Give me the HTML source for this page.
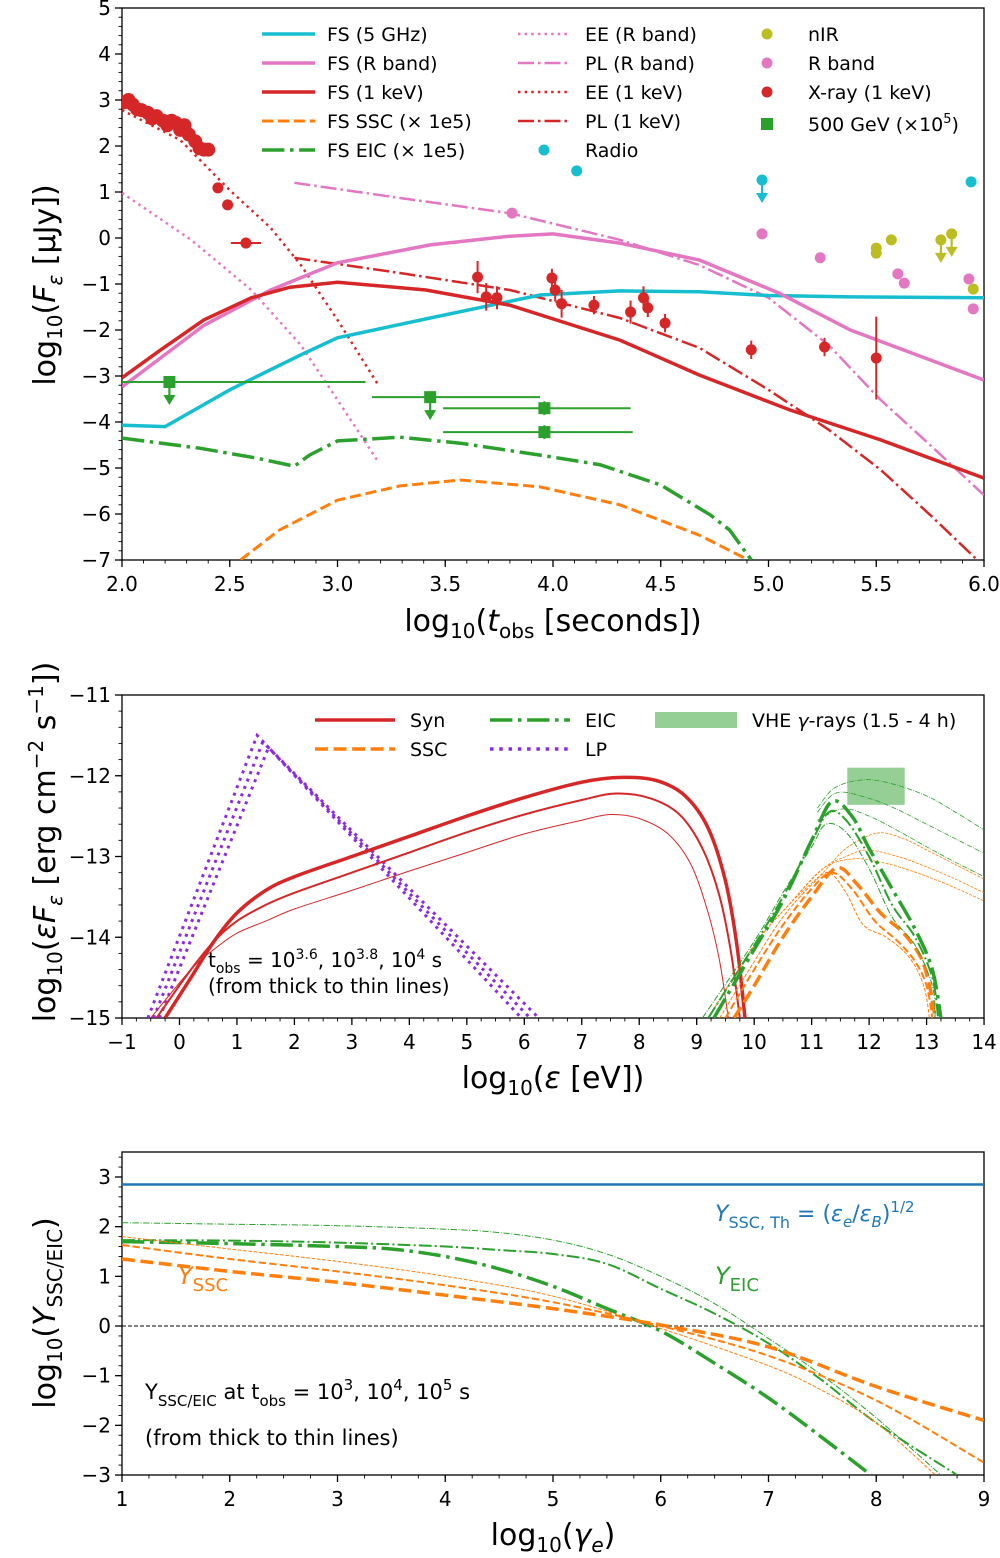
<!DOCTYPE html>
<html><head><meta charset="utf-8"><style>
html,body{margin:0;padding:0;background:#fff}
svg{display:block;font-family:"DejaVu Sans","Liberation Sans",sans-serif}
</style></head><body>
<svg id="fig" width="1000" height="1558" viewBox="0 0 1000 1558" xmlns="http://www.w3.org/2000/svg">
<defs>
<clipPath id="c1"><rect x="122" y="8" width="862" height="552"/></clipPath>
<clipPath id="c2"><rect x="122" y="695" width="862" height="323"/></clipPath>
<clipPath id="c3"><rect x="122" y="1152" width="862" height="323"/></clipPath>
</defs>
<g id="p1"></g>
<g id="p2"></g>
<g id="p3"></g>
</svg>
<script>
// ---------- Panel 1 data ----------
const fs5x=[2.0,2.2,2.5,2.83,3.0,3.43,3.94,4.31,4.68,5.0,5.38,6.0];
const fs5y=[-4.07,-4.1,-3.3,-2.54,-2.17,-1.74,-1.24,-1.15,-1.17,-1.25,-1.28,-1.3];
const fsRx=[2.0,2.38,2.69,3.0,3.43,3.8,4.0,4.31,4.68,5.05,5.38,6.0];
const fsRy=[-3.24,-1.9,-1.13,-0.54,-0.15,0.04,0.09,-0.11,-0.48,-1.2,-2.0,-3.09];
const fsXx=[2.0,2.18,2.38,2.6,2.78,3.0,3.41,3.8,4.31,4.68,5.1,5.52,6.0];
const fsXy=[-3.04,-2.43,-1.78,-1.3,-1.07,-0.96,-1.13,-1.46,-2.22,-2.98,-3.74,-4.39,-5.22];
const sscx=[2.55,2.73,3.0,3.29,3.57,3.94,4.31,4.68,4.89];
const sscy=[-7,-6.35,-5.7,-5.39,-5.26,-5.41,-5.8,-6.46,-6.96];
const eicx=[2.0,2.36,2.62,2.8,2.87,3.0,3.29,3.57,3.94,4.22,4.5,4.73,4.82,4.92];
const eicy=[-4.35,-4.57,-4.78,-4.96,-4.72,-4.41,-4.33,-4.46,-4.72,-4.93,-5.37,-6.02,-6.35,-7];
const eeRx=[2.0,2.32,2.6,2.83,3.0,3.19];
const eeRy=[0.98,-0.04,-1.13,-2.33,-3.52,-4.87];
const eeXx=[2.0,2.27,2.5,2.69,2.83,3.0,3.19];
const eeXy=[2.78,2.13,1.04,0.22,-0.59,-1.78,-3.2];
const plRx=[2.8,3.29,3.8,4.31,4.68,5.0,5.28,5.52,5.75,6.0];
const plRy=[1.2,0.87,0.54,-0.04,-0.59,-1.3,-2.33,-3.52,-4.5,-5.59];
const plXx=[2.8,3.29,3.8,4.31,4.68,5.0,5.28,5.52,5.75,5.96];
const plXy=[-0.43,-0.76,-1.13,-1.74,-2.39,-3.3,-4.17,-5.04,-6.02,-6.96];
const xrayT=[2.01,2.03,2.05,2.07,2.09,2.12,2.14,2.16,2.19,2.21,2.23,2.25,2.27,2.29,2.31,2.34,2.36,2.38,2.40,2.445,2.49,2.575,3.65,3.69,3.74,3.995,4.01,4.04,4.19,4.36,4.42,4.44,4.52,4.92,5.26,5.50];
const xrayF=[2.95,3.0,2.9,2.8,2.78,2.72,2.6,2.65,2.55,2.45,2.55,2.5,2.35,2.45,2.25,2.1,1.95,1.92,1.92,1.09,0.72,-0.11,-0.85,-1.28,-1.3,-0.87,-1.13,-1.43,-1.46,-1.61,-1.3,-1.52,-1.85,-2.43,-2.37,-2.61];
const xrayErr=[0,0,0,0,0,0,0,0,0,0,0,0,0,0,0,0,0,0,0,0,0,0,0.35,0.3,0.25,0.2,0.25,0.3,0.2,0.25,0.25,0.2,0.2,0.2,0.2,0.9];
const nirT=[5.5,5.5,5.57,5.8,5.85,5.95];
const nirF=[-0.22,-0.33,-0.04,-0.04,0.09,-1.11];
const nirUL=[0,0,0,1,1,0];
const rbT=[3.81,4.97,5.24,5.6,5.63,5.93,5.95];
const rbF=[0.54,0.09,-0.43,-0.78,-0.98,-0.89,-1.54];
const radT=[4.11,4.97,5.94];
const radF=[1.46,1.26,1.22];
const radUL=[0,1,0];
const gevT=[2.22,3.43,3.96,3.96];
const gevF=[-3.13,-3.46,-3.7,-4.22];
const gevLo=[2.0,3.16,3.49,3.49];
const gevHi=[3.13,3.94,4.36,4.37];
const gevUL=[1,1,0,0];
const p1xTicks=[2.0,2.5,3.0,3.5,4.0,4.5,5.0,5.5,6.0];
const p1yTicks=[-7,-6,-5,-4,-3,-2,-1,0,1,2,3,4,5];
// ---------- Panel 2 data ----------
const synX=[[-0.25,0.2,0.6,1.0,1.5,2.0,3,4,5,6,7,7.7,8.3,8.8,9.2,9.5,9.7,9.84],[-0.4,0.2,0.6,1.0,1.5,2,3,4,5,6,7,7.6,8.2,8.7,9.1,9.4,9.6,9.75],[-0.5,0.2,0.6,1.0,1.5,2,3,4,5,6,7,7.5,8.0,8.5,8.9,9.2,9.4,9.55]];
const synY=[[-15,-14.5,-14.05,-13.7,-13.42,-13.25,-13.0,-12.75,-12.5,-12.27,-12.08,-12.02,-12.06,-12.25,-12.65,-13.3,-14.1,-15],[-15,-14.4,-14.05,-13.8,-13.6,-13.45,-13.2,-12.95,-12.7,-12.48,-12.3,-12.22,-12.28,-12.48,-12.9,-13.5,-14.2,-15],[-15,-14.4,-14.15,-13.95,-13.8,-13.65,-13.42,-13.18,-12.95,-12.72,-12.55,-12.48,-12.53,-12.72,-13.1,-13.7,-14.3,-15]];
const lpX=[[-0.55,1.35,5.95],[-0.45,1.45,6.1],[-0.35,1.55,6.25]];
const lpY=[[-15,-11.5,-15],[-15,-11.58,-15],[-15,-11.65,-15]];
const eicSX=[[9.3,10,10.5,11,11.35,11.7,12.0,12.4,12.8,13.1,13.25],[9.2,10,10.5,11,11.3,11.6,12,12.4,12.8,13.1,13.2],[9.1,10,10.5,11,11.25,11.6,12,12.4,12.8,13.1,13.15],[11.1,11.4,11.9,12.4,13,13.5,14],[11.1,11.44,12,12.5,13,13.5,14],[11.1,11.55,12,12.5,13,13.5,14]];
const eicSY=[[-15,-14.15,-13.55,-12.8,-12.32,-12.5,-12.9,-13.4,-13.9,-14.4,-15],[-15,-14.1,-13.5,-12.82,-12.45,-12.55,-13.0,-13.6,-14.0,-14.5,-15],[-15,-14.05,-13.45,-12.88,-12.6,-12.7,-13.15,-13.75,-14.1,-14.6,-15],[-12.4,-12.15,-12.05,-12.1,-12.25,-12.45,-12.67],[-12.45,-12.21,-12.28,-12.42,-12.6,-12.78,-12.96],[-12.55,-12.41,-12.5,-12.68,-12.88,-13.07,-13.25]];
const sscSX=[[9.65,10,10.5,11,11.44,11.8,12.2,12.6,12.9,13.05,13.15],[9.5,10,10.5,11,11.35,11.7,12.1,12.5,12.8,13,13.1],[9.4,10,10.5,11,11.3,11.6,11.9,12.3,12.7,12.95,13.05],[9.2,10,10.6,11.2,11.6,12.14,12.6,13,13.5,14],[9.2,10,10.6,11.2,11.6,11.96,12.5,13,13.5,14],[9.2,10,10.6,11.2,11.72,12.2,12.7,13.2,13.6,14]];
const sscSY=[[-15,-14.6,-14.0,-13.5,-13.14,-13.35,-13.7,-13.95,-14.25,-14.6,-15],[-15,-14.4,-13.85,-13.4,-13.2,-13.4,-13.8,-14.05,-14.3,-14.6,-15],[-15,-14.3,-13.75,-13.35,-13.2,-13.45,-13.85,-14.0,-14.25,-14.6,-15],[-15,-14.1,-13.6,-13.2,-12.9,-12.71,-12.78,-12.92,-13.1,-13.28],[-15,-14.1,-13.6,-13.15,-13.0,-12.92,-13.0,-13.13,-13.28,-13.45],[-15,-14.1,-13.6,-13.15,-13.03,-13.07,-13.17,-13.3,-13.42,-13.55]];
const vheX=[11.62,12.62];
const vheY=[-11.9,-12.36];
const p2xTicks=[-1,0,1,2,3,4,5,6,7,8,9,10,11,12,13,14];
const p2yTicks=[-15,-14,-13,-12,-11];
// ---------- Panel 3 data ----------
const yTh=2.85;
const yEicX=[[1,2,3,3.5,4,4.5,5,5.5,6,6.5,7,7.5,7.95],[1,2,3,4,4.5,5,5.5,6,6.5,7,7.5,8,8.75],[1,2,3,4,4.5,5,5.5,6,6.5,7,7.5,8,8.6]];
const yEicY=[[1.7,1.66,1.6,1.55,1.4,1.15,0.8,0.35,-0.1,-0.75,-1.45,-2.25,-3.0],[1.73,1.72,1.68,1.6,1.53,1.45,1.25,0.75,0.25,-0.35,-1.1,-1.95,-3.0],[2.08,2.05,2.02,1.95,1.88,1.73,1.45,1.0,0.45,-0.25,-1.0,-1.85,-3.0]];
const ySscX=[[1,2,3,4,5,6,7,8,9],[1,2,3,4,5,6,7,8,9],[1,2,3,4,5,6,7,7.5,8,8.55]];
const ySscY=[[1.35,1.1,0.88,0.62,0.35,0.02,-0.42,-1.22,-1.9],[1.63,1.35,1.1,0.82,0.48,0.0,-0.6,-1.5,-2.75],[1.8,1.55,1.3,1.0,0.6,-0.05,-0.8,-1.3,-1.95,-3.0]];
const p3xTicks=[1,2,3,4,5,6,7,8,9];
const p3yTicks=[-3,-2,-1,0,1,2,3];

const NS="http://www.w3.org/2000/svg";
function mk(parent,tag,attrs){const e=document.createElementNS(NS,tag);for(const k in attrs)e.setAttribute(k,attrs[k]);parent.appendChild(e);return e;}
const C={cyan:"#17becf",pink:"#e377c2",red:"#d62728",orange:"#ff7f0e",green:"#2ca02c",purple:"#8a2be2",olive:"#bcbd22",blue:"#1f77b4"};
function dash(kind,lw){if(kind==="dashed")return[3.7*lw,1.6*lw].join(",");if(kind==="dotted")return[1*lw,1.65*lw].join(",");if(kind==="dashdot")return[6.4*lw,1.6*lw,1*lw,1.6*lw].join(",");return "none";}
function pathD(xs,ys,X,Y,smooth){
 const P=xs.map((x,i)=>[X(x),Y(ys[i])]);
 if(!smooth||P.length<3)return P.map((p,i)=>(i?"L":"M")+p[0].toFixed(1)+","+p[1].toFixed(1)).join("");
 let d="M"+P[0][0].toFixed(1)+","+P[0][1].toFixed(1);
 for(let i=0;i<P.length-1;i++){const p0=P[Math.max(0,i-1)],p1=P[i],p2=P[i+1],p3=P[Math.min(P.length-1,i+2)];
  const c1=[p1[0]+(p2[0]-p0[0])/6,p1[1]+(p2[1]-p0[1])/6],c2=[p2[0]-(p3[0]-p1[0])/6,p2[1]-(p3[1]-p1[1])/6];
  d+="C"+c1[0].toFixed(1)+","+c1[1].toFixed(1)+" "+c2[0].toFixed(1)+","+c2[1].toFixed(1)+" "+p2[0].toFixed(1)+","+p2[1].toFixed(1);}
 return d;}
function curve(g,xs,ys,X,Y,col,lw,kind,name,smooth){const p=mk(g,"path",{d:pathD(xs,ys,X,Y,smooth),fill:"none",stroke:col,"stroke-width":lw,"stroke-dasharray":dash(kind,lw)});


return p;}
function txt(g,x,y,s,size,anchor,col,name){const t=mk(g,"text",{x:x,y:y,"font-size":size,"text-anchor":anchor||"start",fill:col||"#000"});t.innerHTML=s;


return t;}
function axes(g,L,T,R,B,X,Y,xt,yt,xmin,xmax,ymin,ymax,xminor,yminor,xfmt,name){
 const f=mk(g,"rect",{x:L,y:T,width:R-L,height:B-T,fill:"none",stroke:"#000","stroke-width":1.3});
 
 
 const ax=mk(g,"g",{});
 
 
 for(let v=xmin;v<=xmax+1e-9;v+=xminor){const px=X(v);if(px<L-0.5||px>R+0.5)continue;mk(ax,"line",{x1:px,x2:px,y1:B,y2:B+3.5,stroke:"#000","stroke-width":0.9});}
 for(let v=ymin;v<=ymax+1e-9;v+=yminor){const py=Y(v);if(py<T-0.5||py>B+0.5)continue;mk(ax,"line",{x1:L-3.5,x2:L,y1:py,y2:py,stroke:"#000","stroke-width":0.9});}
 xt.forEach(v=>{const px=X(v);mk(ax,"line",{x1:px,x2:px,y1:B,y2:B+7,stroke:"#000","stroke-width":1.3});txt(ax,px,B+31,xfmt(v),20,"middle","#000",name+'-x-tick-label');});
 yt.forEach(v=>{const py=Y(v);mk(ax,"line",{x1:L-7,x2:L,y1:py,y2:py,stroke:"#000","stroke-width":1.3});txt(ax,L-11,py+7,(v<0?"\u2212"+(-v):""+v),20,"end","#000",name+'-y-tick-label');});
}
function dot(g,x,y,r,col,name){const c=mk(g,"circle",{cx:x,cy:y,r:r,fill:col});return c;}
function arrowDown(g,x,y,col){mk(g,"line",{x1:x,x2:x,y1:y,y2:y+18,stroke:col,"stroke-width":2.2});mk(g,"path",{d:`M${x-6},${y+13}L${x+6},${y+13}L${x},${y+23}Z`,fill:col});}
function legLine(g,x1,x2,y,col,lw,kind,label,tx,name){const l=mk(g,"line",{x1:x1,x2:x2,y1:y,y2:y,stroke:col,"stroke-width":lw,"stroke-dasharray":dash(kind,lw)});txt(g,tx,y+7,label,19,"start","#000",name);}

// ===== Panel 1 =====
(function(){
 const g=document.getElementById("p1");
 const X=t=>122+(t-2)*215.5, Y=v=>8+(5-v)*46;
 axes(g,122,8,984,560,X,Y,p1xTicks,p1yTicks,2,6,-7,5,0.1,0.2,v=>v.toFixed(1),"p1");
 const d=mk(g,"g",{"clip-path":"url(#c1)"});
 
 
 curve(d,eeRx,eeRy,X,Y,C.pink,2.5,"dotted","ee-r-band-line");
 curve(d,eeXx,eeXy,X,Y,C.red,2.5,"dotted","ee-1kev-line");
 curve(d,plRx,plRy,X,Y,C.pink,2.5,"dashdot","pl-r-band-line");
 curve(d,plXx,plXy,X,Y,C.red,2.5,"dashdot","pl-1kev-line");
 curve(d,fs5x,fs5y,X,Y,C.cyan,3.5,"solid","fs-5ghz-line");
 curve(d,fsRx,fsRy,X,Y,C.pink,3.5,"solid","fs-r-band-line");
 curve(d,fsXx,fsXy,X,Y,C.red,3.5,"solid","fs-1kev-line");
 curve(d,sscx,sscy,X,Y,C.orange,3,"dashed","fs-ssc-line");
 curve(d,eicx,eicy,X,Y,C.green,3.5,"dashdot","fs-eic-line");
 xrayT.forEach((t,i)=>{const e=xrayErr[i];if(e>0)mk(d,"line",{x1:X(t),x2:X(t),y1:Y(xrayF[i]+e),y2:Y(xrayF[i]-e),stroke:C.red,"stroke-width":2});
  if(i===21)mk(d,"line",{x1:X(t-0.07),x2:X(t+0.07),y1:Y(xrayF[i]),y2:Y(xrayF[i]),stroke:C.red,"stroke-width":2});
  dot(d,X(t),Y(xrayF[i]),i<19?7:5.5,C.red,"xray-point");});
 nirT.forEach((t,i)=>{dot(d,X(t),Y(nirF[i]),5.5,C.olive,"nir-point");if(nirUL[i])arrowDown(d,X(t),Y(nirF[i]),C.olive);});
 rbT.forEach((t,i)=>dot(d,X(t),Y(rbF[i]),5.5,C.pink,"r-band-point"));
 radT.forEach((t,i)=>{dot(d,X(t),Y(radF[i]),5.5,C.cyan,"radio-point");if(radUL[i])arrowDown(d,X(t),Y(radF[i]),C.cyan);});
 gevT.forEach((t,i)=>{mk(d,"line",{x1:X(gevLo[i]),x2:X(gevHi[i]),y1:Y(gevF[i]),y2:Y(gevF[i]),stroke:C.green,"stroke-width":2});
  if(gevUL[i])arrowDown(d,X(t),Y(gevF[i]),C.green);else mk(d,"line",{x1:X(t),x2:X(t),y1:Y(gevF[i]+0.15),y2:Y(gevF[i]-0.15),stroke:C.green,"stroke-width":2});
  const r=mk(d,"rect",{x:X(t)-6,y:Y(gevF[i])-6,width:12,height:12,fill:C.green});
  
  });
 const lg=mk(g,"g",{});
 
 
 legLine(lg,262,315,34,C.cyan,3.5,"solid","FS (5 GHz)",327,"legend-fs-5ghz");
 legLine(lg,262,315,63,C.pink,3.5,"solid","FS (R band)",327,"legend-fs-r-band");
 legLine(lg,262,315,92,C.red,3.5,"solid","FS (1 keV)",327,"legend-fs-1kev");
 legLine(lg,262,315,121,C.orange,3,"dashed","FS SSC (× 1e5)",327,"legend-fs-ssc");
 legLine(lg,262,315,150,C.green,3.5,"dashdot","FS EIC (× 1e5)",327,"legend-fs-eic");
 legLine(lg,518,570,34,C.pink,2.5,"dotted","EE (R band)",585,"legend-ee-r-band");
 legLine(lg,518,570,63,C.pink,2.5,"dashdot","PL (R band)",585,"legend-pl-r-band");
 legLine(lg,518,570,92,C.red,2.5,"dotted","EE (1 keV)",585,"legend-ee-1kev");
 legLine(lg,518,570,121,C.red,2.5,"dashdot","PL (1 keV)",585,"legend-pl-1kev");
 dot(lg,544,150,5.5,C.cyan,"legend-radio-marker");txt(lg,585,157,"Radio",19,"start","#000","legend-radio");
 dot(lg,767,34,5.5,C.olive,"legend-nir-marker");txt(lg,808,41,"nIR",19,"start","#000","legend-nir");
 dot(lg,767,63,5.5,C.pink,"legend-r-band-marker");txt(lg,808,70,"R band",19,"start","#000","legend-r-band");
 dot(lg,767,92,5.5,C.red,"legend-xray-marker");txt(lg,808,99,"X-ray (1 keV)",19,"start","#000","legend-xray");
 mk(lg,"rect",{x:761,y:118,width:12,height:12,fill:C.green});
 txt(lg,808,131,'500 GeV (×10<tspan dy="-8" font-size="13">5</tspan><tspan dy="8">)</tspan>',19,"start","#000","legend-500gev");
 txt(g,553,631,'log<tspan dy="7" font-size="20">10</tspan><tspan dy="-7">(</tspan><tspan font-style="italic">t</tspan><tspan dy="7" font-size="20">obs</tspan><tspan dy="-7"> [seconds])</tspan>',30,"middle","#000","p1-x-axis-title");
 const yl=txt(g,0,0,'log<tspan dy="7" font-size="20">10</tspan><tspan dy="-7">(</tspan><tspan font-style="italic">F</tspan><tspan dy="7" font-size="20" font-style="italic">ε</tspan><tspan dy="-7"> [μJy])</tspan>',30,"middle","#000","p1-y-axis-title");
 yl.setAttribute("transform","translate(55,285) rotate(-90)");
})();

// ===== Panel 2 =====
(function(){
 const g=document.getElementById("p2");
 const X=v=>122+(v+1)*57.47, Y=v=>695+(-11-v)*80.75;
 axes(g,122,695,984,1018,X,Y,p2xTicks,p2yTicks,-1,14,-15,-11,0.25,0.2,v=>(v<0?"\u2212"+(-v):""+v),"p2");
 const d=mk(g,"g",{"clip-path":"url(#c2)"});
 
 
 const r=mk(d,"rect",{x:X(vheX[0]),y:Y(vheY[0]),width:X(vheX[1])-X(vheX[0]),height:Y(vheY[1])-Y(vheY[0]),fill:C.green,"fill-opacity":0.5});
 
 
 const lws=[3.5,2,1,0.8,0.8,0.8];
 lpX.forEach((xs,i)=>curve(d,xs,lpY[i],X,Y,C.purple,3,"dotted","lp-line",false));
 synX.forEach((xs,i)=>curve(d,xs,synY[i],X,Y,C.red,lws[i],"solid","syn-line",true));
 sscSX.forEach((xs,i)=>curve(d,xs,sscSY[i],X,Y,C.orange,lws[i],"dashed","ssc-line",true));
 eicSX.forEach((xs,i)=>curve(d,xs,eicSY[i],X,Y,C.green,lws[i],"dashdot","eic-line",true));
 const lg=mk(g,"g",{});
 
 
 legLine(lg,315,395,720,C.red,3.5,"solid","Syn",410,"legend-syn");
 legLine(lg,315,395,749,C.orange,3.5,"dashed","SSC",410,"legend-ssc");
 legLine(lg,490,570,720,C.green,3.5,"dashdot","EIC",585,"legend-eic");
 legLine(lg,490,570,749,C.purple,3.5,"dotted","LP",585,"legend-lp");
 mk(lg,"rect",{x:655,y:712,width:82,height:16,fill:C.green,"fill-opacity":0.5});
 txt(lg,752,727,'VHE <tspan font-style="italic">γ</tspan>-rays (1.5 - 4 h)',19,"start","#000","legend-vhe");
 txt(g,208,967,'t<tspan dy="6" font-size="14">obs</tspan><tspan dy="-6"> = 10</tspan><tspan dy="-8" font-size="14">3.6</tspan><tspan dy="8">, 10</tspan><tspan dy="-8" font-size="14">3.8</tspan><tspan dy="8">, 10</tspan><tspan dy="-8" font-size="14">4</tspan><tspan dy="8"> s</tspan>',20,"start","#000","p2-time-annotation");
 txt(g,208,993,'(from thick to thin lines)',20,"start","#000","p2-thickness-note");
 txt(g,553,1088,'log<tspan dy="7" font-size="20">10</tspan><tspan dy="-7">(</tspan><tspan font-style="italic">ε</tspan><tspan> [eV])</tspan>',30,"middle","#000","p2-x-axis-title");
 const yl=txt(g,0,0,'log<tspan dy="7" font-size="20">10</tspan><tspan dy="-7">(</tspan><tspan font-style="italic">εF</tspan><tspan dy="7" font-size="20" font-style="italic">ε</tspan><tspan dy="-7"> [erg cm</tspan><tspan dy="-12" font-size="20">−2</tspan><tspan dy="12"> s</tspan><tspan dy="-12" font-size="20">−1</tspan><tspan dy="12">])</tspan>',30,"middle","#000","p2-y-axis-title");
 yl.setAttribute("transform","translate(55,842) rotate(-90)");
})();

// ===== Panel 3 =====
(function(){
 const g=document.getElementById("p3");
 const X=v=>122+(v-1)*107.75, Y=v=>1177+(3-v)*49.67;
 axes(g,122,1152,984,1475,X,Y,p3xTicks,p3yTicks,1,9,-3,3.5,0.25,0.2,v=>""+v,"p3");
 const d=mk(g,"g",{"clip-path":"url(#c3)"});
 
 
 const z=mk(d,"line",{x1:X(1),x2:X(9),y1:Y(0),y2:Y(0),stroke:"#000","stroke-width":1,"stroke-dasharray":"4,2"});
 
 
 curve(d,[1,9],[yTh,yTh],X,Y,C.blue,2.5,"solid","y-ssc-th-line",false);
 const lws=[3.5,2,1];
 yEicX.forEach((xs,i)=>curve(d,xs,yEicY[i],X,Y,C.green,lws[i],"dashdot","y-eic-line",true));
 ySscX.forEach((xs,i)=>curve(d,xs,ySscY[i],X,Y,C.orange,lws[i],"dashed","y-ssc-line",true));
 txt(g,715,1221,'<tspan font-style="italic">Y</tspan><tspan dy="7" font-size="16">SSC, Th</tspan><tspan dy="-7"> = (</tspan><tspan font-style="italic">ε</tspan><tspan dy="6" font-size="15" font-style="italic">e</tspan><tspan dy="-6">/</tspan><tspan font-style="italic">ε</tspan><tspan dy="6" font-size="15" font-style="italic">B</tspan><tspan dy="-6">)</tspan><tspan dy="-9" font-size="15">1/2</tspan>',22,"start",C.blue,"y-ssc-th-label");
 txt(g,715,1284,'<tspan font-style="italic">Y</tspan><tspan dy="7" font-size="18">EIC</tspan>',24,"start",C.green,"y-eic-label");
 txt(g,178,1284,'<tspan font-style="italic">Y</tspan><tspan dy="7" font-size="18">SSC</tspan>',24,"start",C.orange,"y-ssc-label");
 txt(g,145,1399,'Y<tspan dy="7" font-size="15">SSC/EIC</tspan><tspan dy="-7"> at t</tspan><tspan dy="7" font-size="15">obs</tspan><tspan dy="-7"> = 10</tspan><tspan dy="-9" font-size="15">3</tspan><tspan dy="9">, 10</tspan><tspan dy="-9" font-size="15">4</tspan><tspan dy="9">, 10</tspan><tspan dy="-9" font-size="15">5</tspan><tspan dy="9"> s</tspan>',21,"start","#000","p3-time-annotation");
 txt(g,145,1445,'(from thick to thin lines)',21,"start","#000","p3-thickness-note");
 txt(g,553,1545,'log<tspan dy="7" font-size="20">10</tspan><tspan dy="-7">(</tspan><tspan font-style="italic">γ</tspan><tspan dy="7" font-size="20" font-style="italic">e</tspan><tspan dy="-7">)</tspan>',30,"middle","#000","p3-x-axis-title");
 const yl=txt(g,0,0,'log<tspan dy="7" font-size="20">10</tspan><tspan dy="-7">(</tspan><tspan font-style="italic">Y</tspan><tspan dy="7" font-size="20">SSC/EIC</tspan><tspan dy="-7">)</tspan>',30,"middle","#000","p3-y-axis-title");
 yl.setAttribute("transform","translate(55,1313) rotate(-90)");
})();
</script>
</body></html>
